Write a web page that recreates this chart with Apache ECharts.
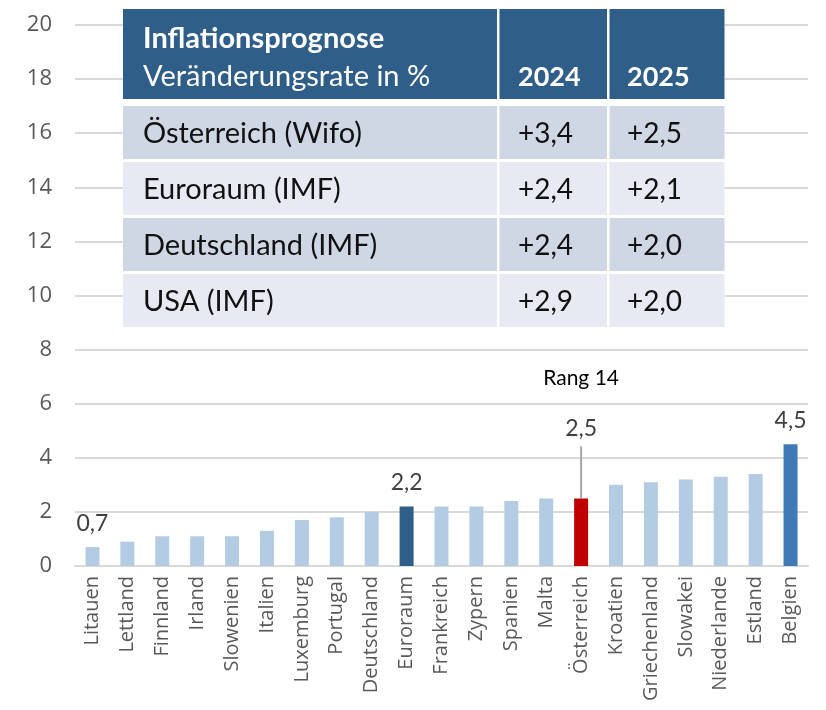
<!DOCTYPE html>
<html>
<head>
<meta charset="utf-8">
<script src="https://cdn.jsdelivr.net/npm/echarts@6/dist/echarts.min.js"></script>
<style>
  html, body { margin: 0; padding: 0; background: #fff; }
  #chart { width: 826px; height: 710px; }
</style>
</head>
<body>
<div id="chart"></div>
<script>
// Länder und Inflationsprognose 2025 (%)
const countries = ['Litauen', 'Lettland', 'Finnland', 'Irland', 'Slowenien', 'Italien', 'Luxemburg', 'Portugal',
  'Deutschland', 'Euroraum', 'Frankreich', 'Zypern', 'Spanien', 'Malta', 'Österreich', 'Kroatien',
  'Griechenland', 'Slowakei', 'Niederlande', 'Estland', 'Belgien']
const rates = [0.7, 0.9, 1.1, 1.1, 1.1, 1.3, 1.7, 1.8, 2.0, 2.2, 2.2, 2.2, 2.4, 2.5, 2.5, 3.0, 3.1, 3.2, 3.3, 3.4, 4.5]
const labelled = ['Litauen', 'Euroraum', 'Österreich', 'Belgien']
const rankNote = 'Rang 14'

// Tabelle
const tableTitle = 'Inflationsprognose'
const tableSubtitle = 'Veränderungsrate in %'
const tableYears = ['2024', '2025']
const tableRegions = ['Österreich (Wifo)', 'Euroraum (IMF)', 'Deutschland (IMF)', 'USA (IMF)']
const forecast2024 = ['+3,4', '+2,4', '+2,4', '+2,9']
const forecast2025 = ['+2,5', '+2,1', '+2,0', '+2,0']

const fmt = v => String(v.toFixed(1)).replace('.', ',')

function barColor(name) {
  if (name === 'Österreich') return '#C00000'
  if (name === 'Euroraum') return '#2F5E88'
  if (name === 'Belgien') return '#3F7AB6'
  return '#B4CCE3'
}

const seriesData = countries.map((name, i) => {
  const item = { value: rates[i], itemStyle: { color: barColor(name) } }
  if (name === 'Österreich') {
    item.label = {
      show: true,
      position: 'top',
      distance: 0,
      formatter: '{r|' + rankNote + '}\n{v|' + fmt(rates[i]) + '}\n{line|}',
      rich: {
        r: { fontSize: 21, color: '#000', fontFamily: 'Lato', lineHeight: 64 },
        v: { fontSize: 23, color: '#404040', fontFamily: 'Lato', lineHeight: 36 },
        line: { width: 2, height: 52, lineHeight: 52, backgroundColor: '#A6A6A6' }
      }
    }
  } else if (labelled.indexOf(name) >= 0) {
    item.label = {
      show: true,
      position: 'top',
      distance: 12,
      fontSize: 23,
      fontFamily: 'Lato',
      color: '#404040',
      formatter: p => fmt(p.value)
    }
  }
  return item
})

// Tabelle als Grafik
const tX = [123, 499.5, 609.5, 724.5]
const headTop = 9
const headBottom = 99
const rowTop = 106
const rowPitch = 56
const rowH = 53
const textX = [143, 518, 627]
const graphic = []
graphic.push({ type: 'rect', shape: { x: tX[0], y: headTop, width: tX[3] - tX[0], height: rowTop + rowPitch * 4 - headTop }, style: { fill: '#fff' }, z: 100 })
for (let c = 0; c < 3; c++) {
  graphic.push({ type: 'rect', shape: { x: tX[c], y: headTop, width: tX[c + 1] - tX[c] - (c < 2 ? 2.5 : 0), height: headBottom - headTop }, style: { fill: '#2F5E88' }, z: 101 })
}
graphic.push({ type: 'text', x: textX[0], y: 39, style: { text: tableTitle, fill: '#fff', font: 'bold 29px Lato', verticalAlign: 'middle' }, z: 102 })
graphic.push({ type: 'text', x: textX[0], y: 77, style: { text: tableSubtitle, fill: '#fff', font: '29px Lato', verticalAlign: 'middle' }, z: 102 })
tableYears.forEach((y, i) => {
  graphic.push({ type: 'text', x: textX[i + 1], y: 77, style: { text: y, fill: '#fff', font: 'bold 27px Lato', verticalAlign: 'middle' }, z: 102 })
})
tableRegions.forEach((region, r) => {
  const top = rowTop + r * rowPitch
  const fill = r % 2 === 0 ? '#CFD6E4' : '#E7EAF2'
  for (let c = 0; c < 3; c++) {
    graphic.push({ type: 'rect', shape: { x: tX[c], y: top, width: tX[c + 1] - tX[c] - (c < 2 ? 2.5 : 0), height: rowH }, style: { fill: fill }, z: 101 })
  }
  const cells = [region, forecast2024[r], forecast2025[r]]
  cells.forEach((t, c) => {
    graphic.push({ type: 'text', x: textX[c], y: top + rowH / 2 + 1, style: { text: t, fill: '#111', font: (c === 0 ? '29px' : '28px') + ' Lato', verticalAlign: 'middle' }, z: 102 })
  })
})

const chart = echarts.init(document.getElementById('chart'), null, { renderer: 'canvas' })
chart.setOption({
  animation: false,
  backgroundColor: '#fff',
  grid: { left: 75, right: 18, top: 25, bottom: 144, containLabel: false },
  xAxis: {
    type: 'category',
    data: countries,
    axisLine: { show: true, lineStyle: { color: '#D9D9D9', width: 2 } },
    axisTick: { show: false },
    axisLabel: {
      interval: 0,
      rotate: 90,
      margin: 10,
      fontSize: 20,
      fontFamily: 'Open Sans',
      color: '#595959'
    }
  },
  yAxis: {
    type: 'value',
    min: 0,
    max: 20,
    interval: 2,
    axisLine: { show: false },
    axisTick: { show: false },
    axisLabel: { margin: 23, fontSize: 22, fontFamily: 'Open Sans', color: '#595959' },
    splitLine: { lineStyle: { color: '#D9D9D9', width: 2 } }
  },
  series: [{
    type: 'bar',
    barWidth: 14,
    data: seriesData
  }],
  graphic: graphic
})
</script>
</body>
</html>
